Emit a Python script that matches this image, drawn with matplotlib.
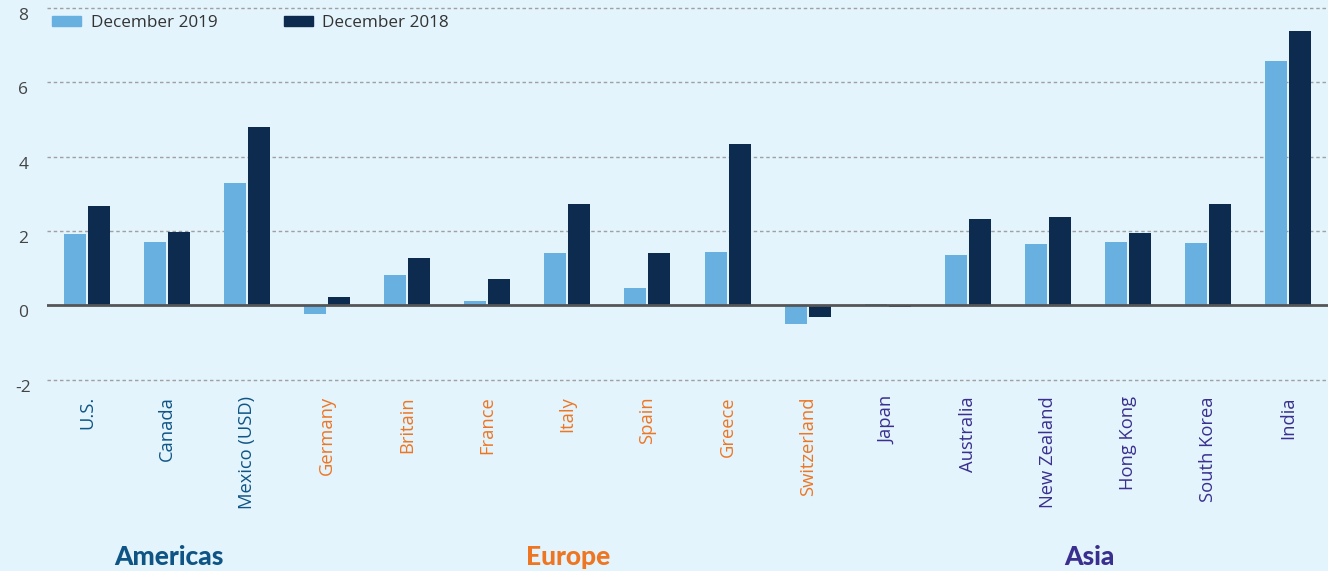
import numpy as np
import matplotlib as mpl
mpl.use("Agg")
import matplotlib.pyplot as plt
from matplotlib.patches import Patch

plt.rcParams["font.family"] = ["Open Sans", "DejaVu Sans"]

# ---- data ----
countries = ["U.S.", "Canada", "Mexico (USD)", "Germany", "Britain", "France", "Italy",
             "Spain", "Greece", "Switzerland", "Japan", "Australia", "New Zealand",
             "Hong Kong", "South Korea", "India"]
regions = ["Americas"] * 3 + ["Europe"] * 7 + ["Asia"] * 6
dec2019 = [1.93, 1.71, 3.30, -0.22, 0.83, 0.13, 1.41, 0.48, 1.44, -0.51, 0.03,
           1.36, 1.66, 1.71, 1.68, 6.57]
dec2018 = [2.68, 1.98, 4.79, 0.24, 1.28, 0.72, 2.73, 1.41, 4.33, -0.30, -0.04,
           2.33, 2.38, 1.95, 2.73, 7.37]
yticks = [-2, 0, 2, 4, 6, 8]

BG = "#E3F4FC"
C19, C18 = "#68B0E0", "#0D2A4F"
REG_COL = {"Americas": "#0E5586", "Europe": "#EE7623", "Asia": "#3A2F8F"}

fig = plt.figure(figsize=(13.28, 5.71), dpi=100, facecolor=BG)
ax = fig.add_axes([47 / 1328, 1 - 383.7 / 571, 1 - 47 / 1328, (383.7 - 3.8) / 571])
ax.set_facecolor(BG)

x = np.arange(len(countries))
w = 0.275
ax.bar(x - 0.15, dec2019, w, color=C19, zorder=3, label="December 2019")
ax.bar(x + 0.15, dec2018, w, color=C18, zorder=3, label="December 2018")

ax.set_xlim(-0.5, len(countries) - 0.5)
ax.set_ylim(-2.1, 8.1)
for s in ax.spines.values():
    s.set_visible(False)

# grid lines
for t in yticks:
    if t == 0:
        ax.axhline(0, color="#555555", lw=2, zorder=4)
    else:
        ax.axhline(t, color="#a0a0a0", lw=1, ls=(0, (2.5, 2)), zorder=1)

ax.set_yticks(yticks)
ax.set_yticklabels([str(t) for t in yticks])
ax.tick_params(axis="y", length=0, pad=17, labelsize=12.5, labelcolor="#444444")
for lab in ax.get_yticklabels():
    lab.set_verticalalignment("top")
    lab.set_horizontalalignment("center")

ax.set_xticks(x)
ax.set_xticklabels(countries, rotation=90, fontsize=13.2)
ax.tick_params(axis="x", length=0, pad=9)
for lab, r in zip(ax.get_xticklabels(), regions):
    lab.set_color(REG_COL[r])

# region labels
for name, xc in [("Americas", 169), ("Europe", 568), ("Asia", 1089)]:
    fig.text(xc / 1328, 1 - 557 / 571, name, ha="center", va="center", fontsize=19,
             fontweight="black", color=REG_COL[name], family=["Lato", "DejaVu Sans"])

handles = [Patch(color=C19), Patch(color=C18)]
leg = fig.legend(handles, ["December 2019", "December 2018"], ncol=2, loc="center left",
                 bbox_to_anchor=(37 / 1328, 1 - 23 / 571), frameon=False, fontsize=12.3,
                 handlelength=1.7, handleheight=0.55, handletextpad=0.55, columnspacing=3.9)
for t in leg.get_texts():
    t.set_color("#333333")

fig.savefig("out.png", dpi=100, facecolor=BG)
